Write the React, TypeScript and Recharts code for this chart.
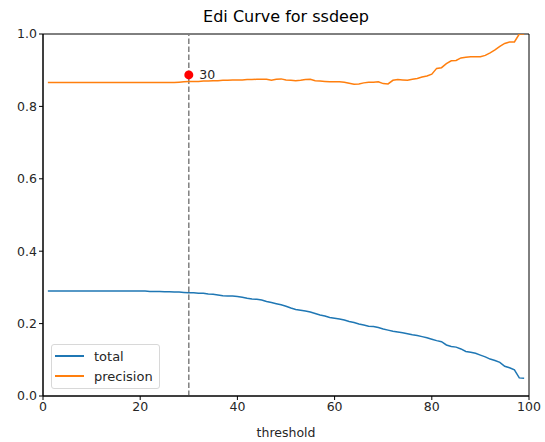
import React from 'react';
import { LineChart, Line, XAxis, YAxis, ReferenceLine, ReferenceDot, ReferenceArea, Label } from 'recharts';

const thresholds = [
    1, 2, 3, 4, 5, 6, 7, 8, 9, 10, 11, 12, 13, 14, 15, 16, 17, 18, 19, 20,
    21, 22, 23, 24, 25, 26, 27, 28, 29, 30, 31, 32, 33, 34, 35, 36, 37, 38, 39, 40,
    41, 42, 43, 44, 45, 46, 47, 48, 49, 50, 51, 52, 53, 54, 55, 56, 57, 58, 59, 60,
    61, 62, 63, 64, 65, 66, 67, 68, 69, 70, 71, 72, 73, 74, 75, 76, 77, 78, 79, 80,
    81, 82, 83, 84, 85, 86, 87, 88, 89, 90, 91, 92, 93, 94, 95, 96, 97, 98, 99,
];

const totalValues = [
    0.290, 0.290, 0.290, 0.290, 0.290, 0.290, 0.290, 0.290, 0.290, 0.290,
    0.290, 0.290, 0.290, 0.290, 0.290, 0.290, 0.290, 0.290, 0.290, 0.290,
    0.290, 0.289, 0.289, 0.289, 0.288, 0.288, 0.287, 0.287, 0.286, 0.285,
    0.285, 0.284, 0.284, 0.282, 0.281, 0.279, 0.277, 0.276, 0.276, 0.275,
    0.273, 0.270, 0.268, 0.267, 0.265, 0.261, 0.258, 0.255, 0.252, 0.248,
    0.243, 0.239, 0.237, 0.235, 0.232, 0.228, 0.224, 0.221, 0.217, 0.215,
    0.213, 0.210, 0.206, 0.203, 0.199, 0.196, 0.193, 0.192, 0.189, 0.185,
    0.182, 0.179, 0.177, 0.175, 0.172, 0.169, 0.167, 0.164, 0.161, 0.157,
    0.153, 0.150, 0.141, 0.137, 0.135, 0.130, 0.123, 0.121, 0.118, 0.113,
    0.108, 0.102, 0.098, 0.093, 0.082, 0.078, 0.072, 0.050, 0.049,
];

const precisionValues = [
    0.866, 0.866, 0.866, 0.866, 0.866, 0.866, 0.866, 0.866, 0.866, 0.866,
    0.866, 0.866, 0.866, 0.866, 0.866, 0.866, 0.866, 0.866, 0.866, 0.866,
    0.866, 0.866, 0.866, 0.866, 0.866, 0.866, 0.866, 0.867, 0.868, 0.869,
    0.869, 0.869, 0.870, 0.870, 0.871, 0.871, 0.872, 0.872, 0.873, 0.873,
    0.873, 0.874, 0.874, 0.875, 0.875, 0.875, 0.872, 0.875, 0.876, 0.873,
    0.872, 0.871, 0.872, 0.874, 0.875, 0.871, 0.870, 0.869, 0.868, 0.868,
    0.868, 0.867, 0.864, 0.861, 0.862, 0.865, 0.867, 0.867, 0.868, 0.863,
    0.862, 0.872, 0.874, 0.873, 0.872, 0.875, 0.877, 0.881, 0.884, 0.889,
    0.905, 0.907, 0.918, 0.926, 0.927, 0.934, 0.936, 0.937, 0.937, 0.937,
    0.941, 0.948, 0.956, 0.966, 0.974, 0.978, 0.978, 1.000, 1.000,
];

const xTicks = [0, 20, 40, 60, 80, 100];
const yTicks = [0, 0.2, 0.4, 0.6, 0.8, 1.0];

const ediThreshold = 30;
const ediPrecision = 0.887;

const FONT = '"DejaVu Sans", sans-serif';
const BLUE = '#1f77b4';
const ORANGE = '#ff7f0e';
const TEXT = '#262626';

const legendItems = [
    { name: 'total', color: BLUE },
    { name: 'precision', color: ORANGE },
];

export default function App() {
    const data = thresholds.map((t, i) => ({
        threshold: t,
        total: totalValues[i],
        precision: precisionValues[i],
    }));

    const tickStyle = { fill: TEXT, fontSize: 12.5, fontFamily: FONT };

    return (
        <div style={{ position: 'absolute', left: 0, top: 0, width: 545, height: 442, background: '#fff', fontFamily: FONT }}>
            <div style={{ position: 'absolute', top: 7, left: 43, width: 486, textAlign: 'center', fontSize: 16, lineHeight: '19px', color: '#000' }}>
                Edi Curve for ssdeep
            </div>
            <LineChart width={545} height={442} data={data} margin={{ top: 34, right: 16, bottom: 0, left: 0 }}>
                <XAxis
                    dataKey="threshold"
                    type="number"
                    domain={[0, 100]}
                    ticks={xTicks}
                    allowDataOverflow
                    stroke="#000"
                    tickSize={4}
                    tick={tickStyle}
                    height={46}
                >
                    <Label value="threshold" position="insideBottom" offset={5} style={{ fill: TEXT, fontSize: 12.5, fontFamily: FONT }} />
                </XAxis>
                <YAxis
                    type="number"
                    domain={[0, 1]}
                    ticks={yTicks}
                    allowDataOverflow
                    stroke="#000"
                    tickSize={4}
                    width={43}
                    tickFormatter={(v: number) => v.toFixed(1)}
                    tick={tickStyle}
                />
                <ReferenceArea x1={0} x2={100} y1={0} y2={1} fill="none" stroke="#000" strokeWidth={1} />
                <ReferenceLine x={ediThreshold} stroke="#808080" strokeWidth={1.5} strokeDasharray="5.5 2.5" />
                <Line dataKey="total" stroke={BLUE} strokeWidth={1.5} dot={false} isAnimationActive={false} />
                <Line dataKey="precision" stroke={ORANGE} strokeWidth={1.5} dot={false} isAnimationActive={false} />
                <ReferenceDot x={ediThreshold} y={ediPrecision} r={4.5} fill="#ff0000" stroke="none">
                    <Label value="30" position="right" offset={6} style={{ fill: TEXT, fontSize: 12.5, fontFamily: FONT }} />
                </ReferenceDot>
            </LineChart>
            <div
                style={{
                    position: 'absolute',
                    left: 51,
                    top: 344,
                    width: 109,
                    height: 45,
                    border: '1px solid #d8d8d8',
                    borderRadius: 3,
                    background: 'rgba(255,255,255,0.8)',
                    boxSizing: 'border-box',
                }}
            >
                {legendItems.map((item, i) => (
                    <div key={item.name} style={{ position: 'absolute', left: 3, top: 2 + i * 20, height: 18, display: 'flex', alignItems: 'center' }}>
                        <div style={{ width: 29, height: 2, background: item.color }} />
                        <span style={{ marginLeft: 10, fontSize: 13, color: TEXT }}>{item.name}</span>
                    </div>
                ))}
            </div>
        </div>
    );
}
